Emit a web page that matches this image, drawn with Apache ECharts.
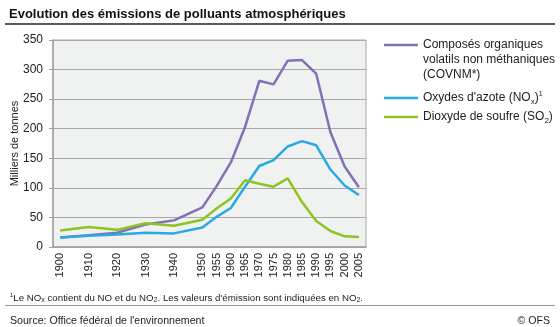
<!DOCTYPE html>
<html>
<head>
<meta charset="utf-8">
<script src="https://cdn.jsdelivr.net/npm/echarts@6/dist/echarts.min.js"></script>
<style>
  html, body { margin: 0; padding: 0; background: #fff; }
  #chart { width: 560px; height: 327px; }
</style>
</head>
<body>
<div id="chart"></div>
<script>
'use strict';
// Emissions (milliers de tonnes), pas de 5 ans ; null = année non relevée
const years = ['1900','1905','1910','1915','1920','1925','1930','1935','1940','1945','1950',
               '1955','1960','1965','1970','1975','1980','1985','1990','1995','2000','2005'];
const labelYears = ['1900','1910','1920','1930','1940','1950','1955','1960','1965','1970',
                    '1975','1980','1985','1990','1995','2000','2005'];
const covnm = [16, null, 20, null, 24, null, 38, null, 45, null, 67,
               103, 143, 203, 281, 275, 315, 316, 293, 194, 136, 101];
const nox   = [16, null, 19, null, 21, null, 24, null, 23, null, 33,
               51, 66, 102, 137, 147, 170, 179, 172, 131, 104, 88];
const so2   = [28, null, 34, null, 29, null, 40, null, 36, null, 46,
               65, 82, 113, 107, 102, 116, 76, 44, 27, 18, 17];

const FONT = '"Liberation Sans", Arial, sans-serif';
const TXT = '#222';
const sub = { fontSize: 8, verticalAlign: 'bottom', lineHeight: 13, fontFamily: FONT, color: TXT };
const sup = { fontSize: 7, verticalAlign: 'top', lineHeight: 14, fontFamily: FONT, color: TXT };

const legendText = {
    COVNM: 'Composés organiques\nvolatils non méthaniques\n(COVNM*)',
    NOx: 'Oxydes d\'azote (NO{sub|x}){sup|1}',
    SO2: 'Dioxyde de soufre (SO{sub|2})'
};

function line(name, data, color) {
    return {
        name: name,
        type: 'line',
        data: data,
        connectNulls: true,
        symbol: 'none',
        lineStyle: { width: 2.5, color: color },
        itemStyle: { color: color }
    };
}

const chart = echarts.init(document.getElementById('chart'));
chart.setOption({
    animation: false,
    textStyle: { fontFamily: FONT, color: TXT },
    title: [{
        text: 'Evolution des émissions de polluants atmosphériques',
        left: 4, top: 3,
        textStyle: { fontFamily: FONT, fontSize: 13, fontWeight: 'bold', color: '#111' }
    }, {
        text: '{sup|1}Le NO{sub|x} contient du NO et du NO{sub|2}. Les valeurs d\'émission sont indiquées en NO{sub|2}.',
        left: 5, top: 287,
        textStyle: { fontFamily: FONT, fontSize: 9.7, fontWeight: 'normal', color: TXT,
            rich: { sub: Object.assign({}, sub, { fontSize: 7, lineHeight: 11 }),
                    sup: Object.assign({}, sup, { fontSize: 6, lineHeight: 12 }) } }
    }, {
        text: 'Source: Office fédéral de l\'environnement',
        left: 5, top: 311,
        textStyle: { fontFamily: FONT, fontSize: 10.6, fontWeight: 'normal', color: TXT }
    }, {
        text: '© OFS',
        right: 5, top: 311,
        textStyle: { fontFamily: FONT, fontSize: 10.6, fontWeight: 'normal', color: TXT }
    }],
    graphic: [{
        type: 'line', shape: { x1: 5, y1: 24, x2: 555, y2: 24 },
        style: { stroke: '#222', lineWidth: 1.5 }
    }, {
        type: 'line', shape: { x1: 5, y1: 305.5, x2: 555, y2: 305.5 },
        style: { stroke: '#999', lineWidth: 1 }
    }],
    legend: {
        orient: 'vertical',
        left: 384, top: 3.5,
        padding: 0,
        itemGap: 4,
        itemWidth: 34, itemHeight: 2.5,
        icon: 'rect',
        data: [
            { name: 'COVNM', textStyle: { padding: [34, 0, 4, 0] } },
            { name: 'NOx' },
            { name: 'SO2' }
        ],
        formatter: function (n) { return legendText[n]; },
        textStyle: { fontFamily: FONT, fontSize: 12, lineHeight: 15, color: TXT,
                     rich: { sub: sub, sup: sup } }
    },
    grid: {
        left: 53, right: 194, top: 40, bottom: 80,
        outerBoundsMode: 'none',
        show: true, backgroundColor: '#f0f1f1',
        borderColor: '#a8a8a8', borderWidth: 1
    },
    xAxis: {
        type: 'category',
        data: years,
        boundaryGap: true,
        axisLine: { lineStyle: { color: '#a0a0a0', width: 1.5 } },
        axisTick: { interval: 0, length: 4, lineStyle: { color: '#a0a0a0' } },
        axisLabel: {
            rotate: 90, margin: 6, fontSize: 11, color: TXT, fontFamily: FONT,
            interval: function (i, v) { return labelYears.indexOf(v) >= 0; }
        },
        splitLine: { show: false }
    },
    yAxis: {
        type: 'value',
        min: 0, max: 350, interval: 50,
        name: 'Milliers de tonnes',
        nameLocation: 'middle',
        nameGap: 33,
        nameMoveOverlap: false,
        nameTextStyle: { fontSize: 11, color: TXT, fontFamily: FONT },
        axisLine: { show: true, lineStyle: { color: '#a0a0a0', width: 1.5 } },
        axisTick: { show: true, length: 4, lineStyle: { color: '#a0a0a0' } },
        axisLabel: { margin: 10, fontSize: 12, color: TXT, fontFamily: FONT },
        splitLine: { lineStyle: { color: '#a8a8a8', width: 1 } }
    },
    series: [
        line('COVNM', covnm, '#8072b6'),
        line('NOx', nox, '#27a9e1'),
        line('SO2', so2, '#8fc31f')
    ]
});
</script>
</body>
</html>
